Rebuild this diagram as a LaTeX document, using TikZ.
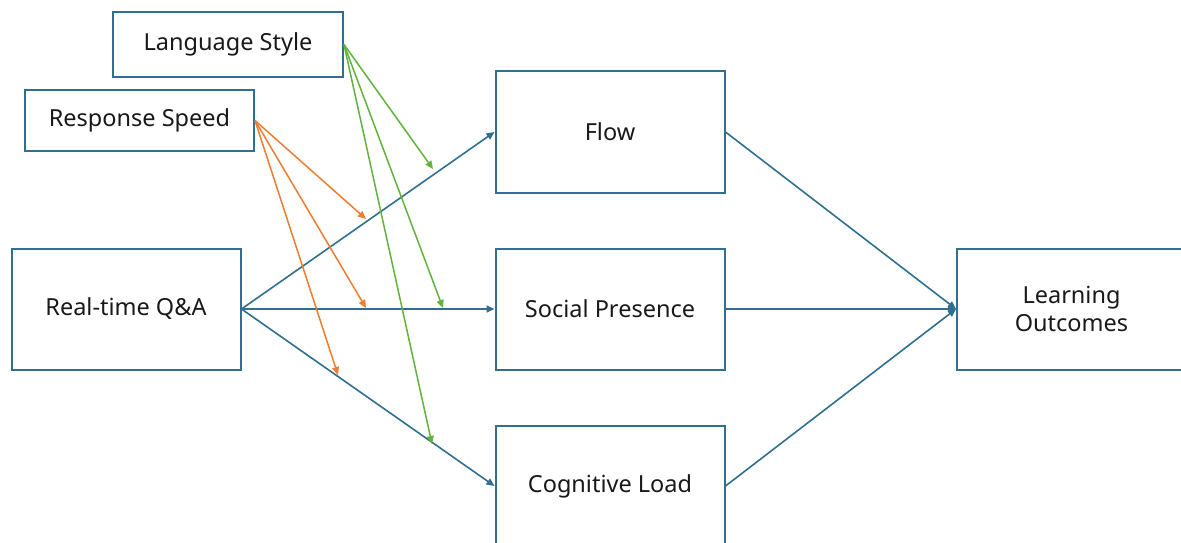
\documentclass[tikz,border=0pt]{standalone}
\usepackage{fontspec}
\setmainfont{Noto Sans}
\usetikzlibrary{arrows.meta}
\definecolor{bl}{HTML}{2F6F8F}
\definecolor{org}{HTML}{ED7D31}
\definecolor{grn}{HTML}{62B23C}
\begin{document}
\begin{tikzpicture}[x=1pt,y=-1pt,
  box/.style={draw=bl, line width=2pt, minimum width=229pt, minimum height=121pt, inner sep=0pt, align=center, font=\fontsize{23.5}{28.5}\selectfont, text=black!90},
  smallbox/.style={box, minimum height=62pt},
  barrow/.style={draw=bl, line width=1.6pt, -{Triangle[length=8pt,width=7pt]}},
  oarrow/.style={draw=org, line width=1.5pt, -{Triangle[length=8pt,width=7pt]}},
  garrow/.style={draw=grn, line width=1.5pt, -{Triangle[length=8pt,width=7pt]}}]
\useasboundingbox (0,0) rectangle (1181,543);
\clip (0,0) rectangle (1181,543);
\fill[white] (0,0) rectangle (1181,543);
\node[smallbox, minimum height=65pt, minimum width=230pt] (ls) at (228,44.5) {Language Style};
\node[smallbox, minimum height=61pt] (rs) at (139.5,120.5) {Response Speed};
\node[box] (rt) at (126,309) {Real-time Q\&A};
\node[box] (fl) at (610,132) {Flow};
\node[box] (sp) at (610,309) {Social Presence};
\node[box] (cl) at (610,486) {Cognitive Load};
\node[box] (lo) at (1071.5,309) {Learning\\Outcomes};
\draw[barrow] (rt.east) -- (fl.west);
\draw[barrow] (rt.east) -- (sp.west);
\draw[barrow] (rt.east) -- (cl.west);
\draw[barrow] (fl.east) -- (lo.west);
\draw[barrow] (sp.east) -- (lo.west);
\draw[barrow] (cl.east) -- (lo.west);
\coordinate (o1) at (366,219);
\coordinate (o2) at (366,308);
\coordinate (o3) at (338,375);
\coordinate (g1) at (433,169);
\coordinate (g2) at (443,308);
\coordinate (g3) at (432,444);
\draw[oarrow] (rs.east) -- (o1);
\draw[oarrow] (rs.east) -- (o2);
\draw[oarrow] (rs.east) -- (o3);
\draw[garrow] (ls.east) -- (g1);
\draw[garrow] (ls.east) -- (g2);
\draw[garrow] (ls.east) -- (g3);
\end{tikzpicture}
\end{document}
